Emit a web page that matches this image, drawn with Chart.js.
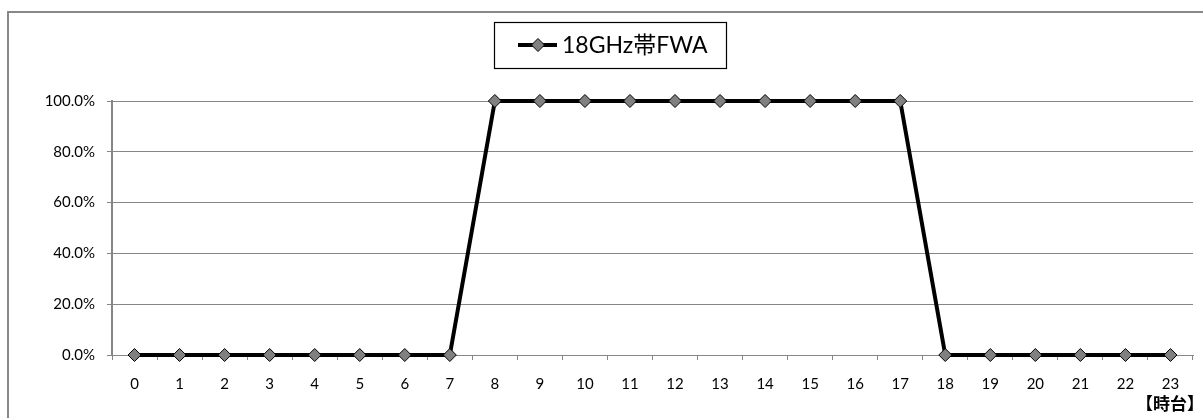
<!DOCTYPE html>
<html>
<head>
<meta charset="utf-8">
<script src="https://cdn.jsdelivr.net/npm/chart.js@4"></script>
<style>
html,body{margin:0;padding:0;background:#fff;overflow:hidden;}
#c{display:block;}
</style>
</head>
<body>
<canvas id="c" width="1203" height="418"></canvas>
<script>
const categories = ['0','1','2','3','4','5','6','7','8','9','10','11','12','13','14','15','16','17','18','19','20','21','22','23'];
const seriesName = '18GHz帯FWA';
const seriesValues = [0,0,0,0,0,0,0,0,100,100,100,100,100,100,100,100,100,100,0,0,0,0,0,0];
const yTicks = [0,20,40,60,80,100];
const xAxisTitle = '【時台】';

const FONT = "Lato, 'Noto Sans CJK JP', sans-serif";
const GRID = '#868686';

const decor = {
  id: 'decor',
  afterDraw(chart) {
    const ctx = chart.ctx;
    ctx.save();
    ctx.strokeStyle = '#888888';
    ctx.lineWidth = 2;
    ctx.beginPath();
    ctx.moveTo(8, 418);
    ctx.lineTo(8, 12);
    ctx.lineTo(1203, 12);
    ctx.stroke();
    const bx = 494.5, by = 22.5, bw = 232, bh = 46;
    ctx.strokeStyle = '#000';
    ctx.lineWidth = 1.2;
    ctx.strokeRect(bx, by, bw, bh);
    const ly = 45;
    ctx.lineWidth = 4;
    ctx.beginPath();
    ctx.moveTo(518, ly);
    ctx.lineTo(557, ly);
    ctx.stroke();
    ctx.fillStyle = '#808080';
    ctx.lineWidth = 1;
    ctx.beginPath();
    const cx = 538, r = 6.5;
    ctx.moveTo(cx, ly - r); ctx.lineTo(cx + r, ly); ctx.lineTo(cx, ly + r); ctx.lineTo(cx - r, ly); ctx.closePath();
    ctx.fill(); ctx.stroke();
    ctx.fillStyle = '#000';
    ctx.font = "23px " + FONT;
    ctx.textAlign = 'left';
    ctx.textBaseline = 'middle';
    ctx.fillText(seriesName, 562, ly + 1);
    ctx.font = "bold 17px " + FONT;
    ctx.textAlign = 'right';
    ctx.fillText(xAxisTitle, 1204, 405);
    ctx.restore();
  }
};

new Chart(document.getElementById('c'), {
  type: 'line',
  data: {
    labels: categories,
    datasets: [{
      label: seriesName,
      data: seriesValues,
      borderColor: '#000000',
      borderWidth: 4,
      tension: 0,
      pointStyle: 'rectRot',
      pointRadius: 6.5,
      pointBackgroundColor: '#808080',
      pointBorderColor: '#000000',
      pointBorderWidth: 1,
      clip: false
    }]
  },
  options: {
    responsive: false,
    animation: false,
    devicePixelRatio: 1,
    layout: { padding: { top: 101, right: 10, left: 0, bottom: 0 } },
    plugins: { legend: { display: false }, tooltip: { enabled: false } },
    scales: {
      x: {
        offset: true,
        grid: { offset: true, drawOnChartArea: false, color: GRID, tickLength: 5 },
        border: { color: GRID, width: 1 },
        ticks: { color: '#000', font: { family: FONT, size: 15 }, padding: 15, maxRotation: 0, autoSkip: false },
        afterFit(s) { s.height = 63; }
      },
      y: {
        min: 0, max: 100,
        afterBuildTicks(s) { s.ticks = yTicks.map(v => ({ value: v })); },
        grid: { color: GRID, lineWidth: 1, tickLength: 5 },
        border: { color: GRID, width: 2 },
        ticks: { color: '#000', font: { family: FONT, size: 15 }, padding: 12, callback: v => Number(v).toFixed(1) + '%' },
        afterFit(s) { s.width = 112; }
      }
    }
  },
  plugins: [decor]
});
</script>
</body>
</html>
